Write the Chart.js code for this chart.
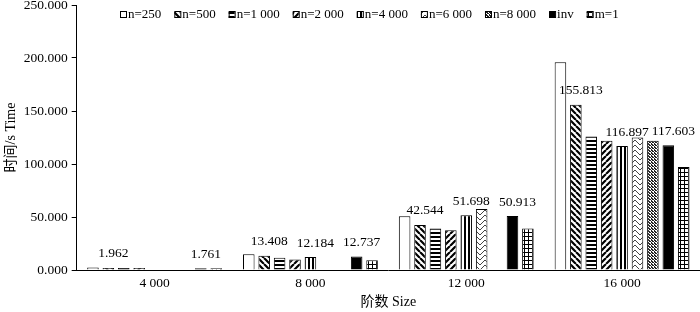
<!DOCTYPE html>
<html>
<head>
<meta charset="utf-8">
<script src="https://cdn.jsdelivr.net/npm/chart.js@4"></script>
<style>
html,body{margin:0;padding:0;background:#fff;}
#wrap{width:700px;height:312px;position:relative;}
</style>
</head>
<body>
<div id="wrap"><canvas id="c" width="700" height="312"></canvas></div>
<script>
// ---- data ----
const categories = ['4 000', '8 000', '12 000', '16 000'];
const seriesNames = ['n=250', 'n=500', 'n=1 000', 'n=2 000', 'n=4 000', 'n=6 000', 'n=8 000', 'inv', 'm=1'];
const n250  = [2.3, 14.8, 50.8, 195.9];
const n500  = [1.962, 13.408, 42.544, 155.813];
const n1000 = [1.9, 11.6, 39.2, 126.0];
const n2000 = [1.9, 10.0, 37.6, 121.9];
const n4000 = [null, 12.184, 51.698, 116.897];
const n6000 = [null, null, 57.6, 125.1];
const n8000 = [null, null, null, 121.9];
const inv   = [1.761, 12.737, 50.913, 117.603];
const m1    = [1.7, 9.1, 39.2, 97.1];
const seriesValues = [n250, n500, n1000, n2000, n4000, n6000, n8000, inv, m1];
const labeledSeries = ['n=500', 'n=4 000', 'inv'];
const yTitle = '时间/s Time';
const xTitle = '阶数 Size';

// ---- patterns ----
function makePattern(w, h, draw) {
  const c = document.createElement('canvas');
  c.width = w; c.height = h;
  const g = c.getContext('2d');
  g.fillStyle = '#fff'; g.fillRect(0, 0, w, h);
  g.strokeStyle = '#000'; g.fillStyle = '#000';
  draw(g, w, h);
  return document.getElementById('c').getContext('2d').createPattern(c, 'repeat');
}
const patterns = [
  '#ffffff',
  makePattern(6, 6, (g) => { g.lineWidth = 2.2; g.beginPath();
    for (let k = -6; k <= 12; k += 6) { g.moveTo(k, 0); g.lineTo(k + 6, 6); } g.stroke(); }),
  makePattern(4, 4, (g) => { g.fillRect(0, 0, 4, 2); }),
  makePattern(6, 6, (g) => { g.lineWidth = 2.2; g.beginPath();
    for (let k = -6; k <= 12; k += 6) { g.moveTo(k, 6); g.lineTo(k + 6, 0); } g.stroke(); }),
  makePattern(4, 4, (g) => { g.fillRect(0, 0, 2, 4); }),
  makePattern(10, 10, (g) => { g.strokeStyle = '#444'; g.lineWidth = 1; g.beginPath();
    g.moveTo(0, 10); g.lineTo(5, 5); g.lineTo(10, 10);
    g.moveTo(0, 5); g.lineTo(5, 0); g.lineTo(10, 5);
    g.stroke(); }),
  makePattern(3, 3, (g) => { g.fillStyle = '#222'; g.fillRect(0, 0, 2, 1); g.fillRect(1, 1, 2, 1); g.fillRect(0, 2, 1, 1); }),
  '#000000',
  makePattern(4, 4, (g) => { g.fillRect(0, 0, 4, 1); g.fillRect(0, 0, 1, 4); })
];

const datasets = seriesNames.map((name, i) => ({
  label: name,
  data: seriesValues[i],
  backgroundColor: patterns[i],
  borderColor: '#000',
  borderWidth: 1,
  categoryPercentage: 0.89,
  barPercentage: 0.75
}));

const FONT = "'Liberation Serif', 'Times New Roman', 'Noto Sans CJK SC', serif";

const valueLabels = {
  id: 'valueLabels',
  afterDatasetsDraw(chart) {
    const ctx = chart.ctx;
    ctx.save();
    ctx.font = '13.5px ' + FONT;
    ctx.fillStyle = '#000';
    ctx.textAlign = 'center';
    ctx.textBaseline = 'middle';
    chart.data.datasets.forEach((ds, di) => {
      if (!labeledSeries.includes(ds.label)) return;
      const meta = chart.getDatasetMeta(di);
      meta.data.forEach((bar, j) => {
        const v = ds.data[j];
        if (v === null || v === undefined) return;
        ctx.fillText(v.toFixed(3), bar.x + 5, bar.y - 14);
      });
    });
    ctx.restore();
  }
};

const customLegend = {
  id: 'customLegend',
  afterDraw(chart) {
    const ctx = chart.ctx;
    ctx.save();
    ctx.font = '13px ' + FONT;
    ctx.textBaseline = 'middle';
    let x = 120;
    const y = 15;
    chart.data.datasets.forEach((ds) => {
      ctx.fillStyle = ds.backgroundColor;
      ctx.fillRect(x, y - 3, 6, 6);
      ctx.strokeStyle = '#000';
      ctx.lineWidth = 1;
      ctx.strokeRect(x + 0.5, y - 3.5, 6, 6);
      ctx.fillStyle = '#000';
      ctx.fillText(ds.label, x + 8, y);
      x += 8 + ctx.measureText(ds.label).width + 13;
    });
    ctx.restore();
  }
};

new Chart(document.getElementById('c'), {
  type: 'bar',
  data: { labels: categories, datasets },
  options: {
    responsive: false,
    animation: false,
    devicePixelRatio: 1,
    layout: { padding: { top: 5, right: 0, bottom: 1, left: 3 } },
    plugins: {
      legend: { display: false },
      tooltip: { enabled: false }
    },
    scales: {
      x: {
        grid: { display: false, drawTicks: false },
        border: { display: true, color: '#000', width: 1 },
        ticks: { color: '#000', font: { family: FONT, size: 13.5 }, padding: 5 },
        title: { display: true, text: xTitle, color: '#000', font: { family: FONT, size: 14 }, padding: { top: -2, bottom: 0 } }
      },
      y: {
        min: 0, max: 250,
        afterFit: (scale) => { scale.paddingTop = 0; },
        ticks: { stepSize: 50, color: '#000', font: { family: FONT, size: 13.5 }, padding: 4,
          callback: (v) => Number(v).toFixed(3) },
        grid: { drawOnChartArea: false, drawTicks: true, tickLength: 5, color: '#000' },
        border: { display: true, color: '#000', width: 1 },
        title: { display: true, text: yTitle, color: '#000', font: { family: FONT, size: 14 }, padding: { top: 0, bottom: 0 } }
      }
    }
  },
  plugins: [valueLabels, customLegend]
});
</script>
</body>
</html>
